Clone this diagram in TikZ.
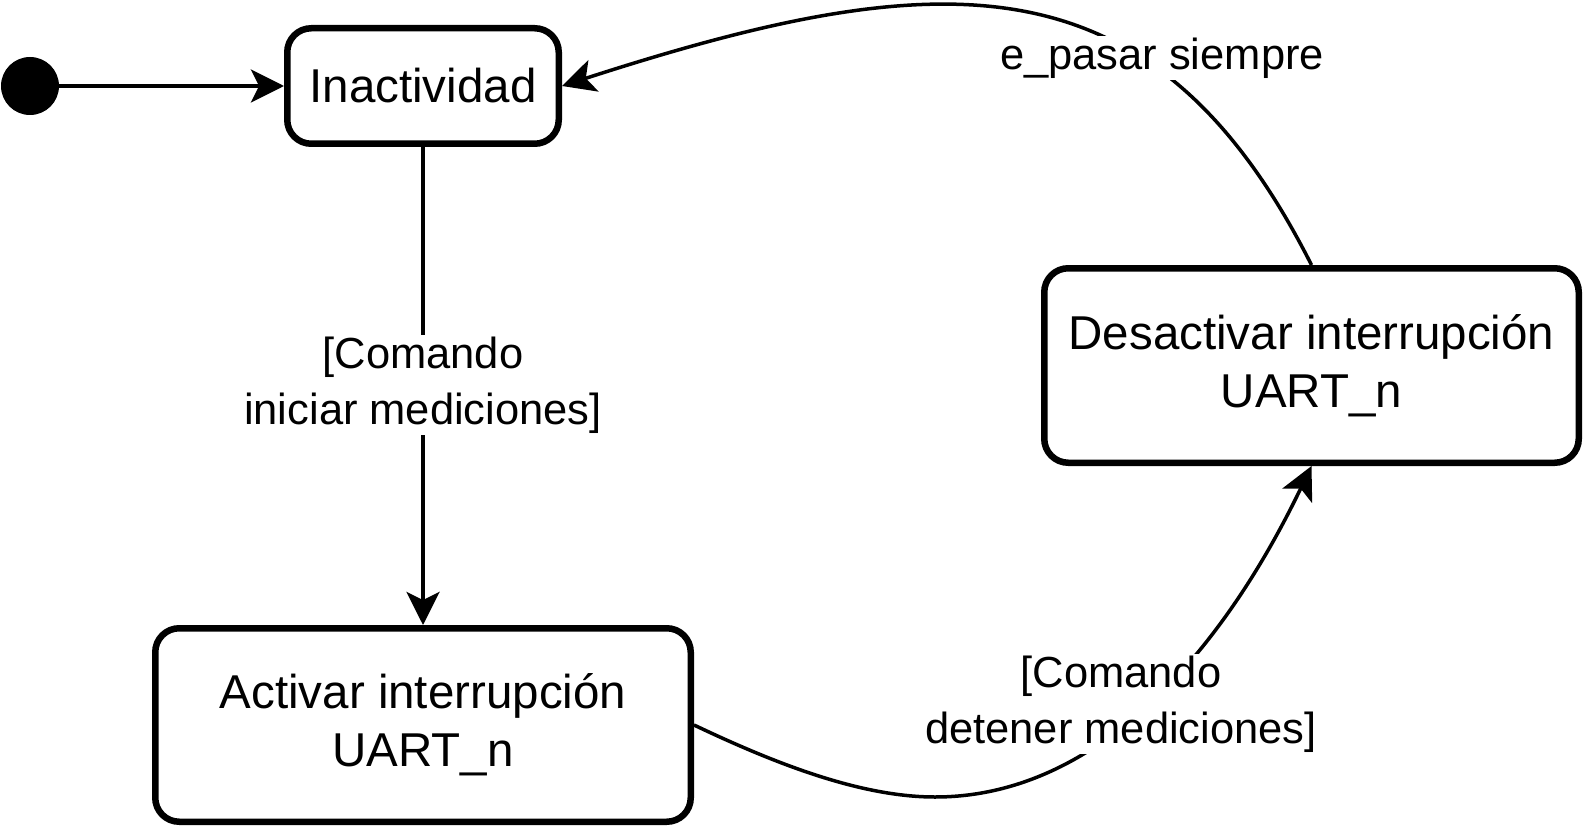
\documentclass[tikz,border=0pt]{standalone}
\usepackage{fontspec}
\setmainfont{Liberation Sans}
\usetikzlibrary{arrows.meta}
\begin{document}
\begin{tikzpicture}[x=1pt,y=-1pt,
  statebox/.style={draw=black,line width=6.5pt,rounded corners=24pt,fill=white,align=center,
    font=\fontsize{47.5}{58}\selectfont,inner sep=0pt},
  edge/.style={line width=3.5pt,-{Stealth[length=33pt,width=33pt,inset=8pt]}},
  lbl/.style={fill=white,align=center,font=\fontsize{43.5}{56}\selectfont,inner sep=2pt}]
\useasboundingbox (0,0) rectangle (1588,832);
\fill[white] (0,0) rectangle (1588,832);
\node[circle,fill=black,minimum size=58pt,inner sep=0pt] (init) at (30,86) {};
\node[statebox,minimum width=271.5pt,minimum height=115.5pt] (ina) at (423,86) {Inactividad};
\node[statebox,minimum width=535.5pt,minimum height=193.5pt] (act) at (423,725) {Activar interrupción\\UART\_n};
\node[statebox,minimum width=534.5pt,minimum height=194.5pt] (des) at (1311.5,365.5) {Desactivar interrupción\\UART\_n};
\draw[edge] (init.east) -- (ina.west);
\draw[edge] (ina.south) -- (act.north);
\node[lbl] (l1) at (423,385) {[Comando\\iniciar mediciones]};
\draw[edge] (act.east) .. controls (774,763) and (860,797) .. (935,797)
  .. controls (1100,797) and (1224,648) .. (des.south);
\node[lbl] (l2) at (1121,704) {[Comando\\detener mediciones]};
\draw[edge] (des.north) .. controls (1154,-46.5) and (945,-38) .. (ina.east);
\node[lbl] (l3) at (1162,58) {e\_pasar siempre};
\end{tikzpicture}
\end{document}
